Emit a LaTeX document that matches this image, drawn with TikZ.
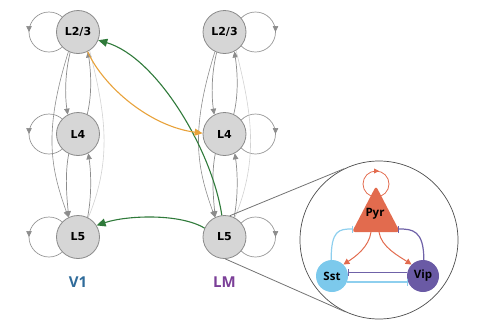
\documentclass[tikz,border=0pt]{standalone}
\usepackage{fontspec}
\setmainfont{DejaVu Sans}
\newfontfamily\lblfont{Open Sans}
\usetikzlibrary{arrows.meta,backgrounds}
\definecolor{nodegray}{HTML}{D6D6D6}
\definecolor{nodeedge}{HTML}{8A8A8A}
\definecolor{edark}{HTML}{8C8C8C}
\definecolor{emid}{HTML}{B2B2B2}
\definecolor{elight}{HTML}{D2D2D2}
\definecolor{grn}{HTML}{2F7A3A}
\definecolor{org}{HTML}{E8A23A}
\definecolor{pyrcol}{HTML}{E26B4E}
\definecolor{sstcol}{HTML}{7CC9EC}
\definecolor{vipcol}{HTML}{6A5AA5}
\definecolor{sstline}{HTML}{8ECFEE}
\definecolor{vipline}{HTML}{6F62A8}
\definecolor{vonecol}{HTML}{2F6B9A}
\definecolor{lmcol}{HTML}{7B3F98}
\begin{document}
\begin{tikzpicture}[x=1pt,y=-1pt,
  layer/.style={circle,fill=nodegray,draw=nodeedge,line width=0.8pt,minimum size=43pt,inner sep=0pt,font=\bfseries\fontsize{11}{12}\selectfont},
  tipg/.style={-{Triangle[length=6pt,width=5.5pt]}},
  ed/.style={draw=edark,line width=0.7pt,tipg,edark},
  em/.style={draw=emid,line width=0.6pt,tipg,edark},
  el/.style={draw=elight,line width=0.6pt},
  loopc/.style={draw=edark!90,line width=0.7pt},
  area/.style={font=\lblfont\bfseries\fontsize{15}{16}\selectfont},
  cell/.style={circle,minimum size=32pt,inner sep=0pt,font=\lblfont\bfseries\fontsize{11.5}{12}\selectfont},
  bar/.style={-{Bar[width=7pt,line width=1.2pt]}},
]
\useasboundingbox (0,0) rectangle (480,330);
% V1 column
\node[layer] (a1) at (78,32) {L2/3};
\node[layer] (a2) at (78,134) {L4};
\node[layer] (a3) at (78,237) {L5};
% LM column
\node[layer] (b1) at (224.5,32) {L2/3};
\node[layer] (b2) at (224.5,134) {L4};
\node[layer] (b3) at (224.5,237) {L5};
\node[area,text=vonecol] (v1) at (78,282) {V1};
\node[area,text=lmcol] (lm) at (224.5,282) {LM};

\begin{scope}[on background layer]
% self loops
\foreach \n in {a1,a2,a3}{
  \draw[loopc] ([xshift=-29pt]\n.center) circle (20pt);
  \draw[loopc,tipg,edark] ([xshift=-49pt,yshift=3pt]\n.center) -- ++(0,3);
}
\foreach \n in {b1,b2,b3}{
  \draw[loopc] ([xshift=31pt]\n.center) circle (20pt);
  \draw[loopc,tipg,edark] ([xshift=51pt,yshift=3pt]\n.center) -- ++(0,3);
}
% intra-column edges
\foreach \t/\m/\b in {a1/a2/a3,b1/b2/b3}{
  \draw[ed] (\t.-111) .. controls +(-5,20) and +(-3,-20) .. (\m.118);
  \draw[ed] (\m.65) .. controls +(5,-20) and +(3,20) .. (\t.-63);
  \draw[em] (\t.-116) .. controls +(-25,80) and +(-18,-50) .. (\b.116);
  \draw[el] (\b.62) .. controls +(25,-60) and +(15,60) .. (\t.-58);
  \draw[ed] (\m.-115) .. controls +(-4,20) and +(-2,-20) .. (\b.115);
  \draw[ed] (\b.64) .. controls +(4,-20) and +(3,20) .. (\m.-62);
}
\end{scope}

% inter-area arrows
\draw[grn,line width=1.1pt,-{Triangle[length=9pt,width=8pt]}] (b3.97) .. controls +(-10,-66) and +(58,17) .. (a1.-22);
\draw[grn,line width=1.1pt,-{Triangle[length=9pt,width=8pt]}] (b3.156) .. controls +(-25,-15) and +(30,-10) .. (a3.32);
\draw[org,line width=1.1pt,-{Triangle[length=8pt,width=7pt]}] (a1.-64) .. controls +(16,35) and +(-53,-7) .. (b2.178);

% zoom inset
\node[circle,draw=black!70,line width=0.7pt,minimum size=158pt,inner sep=0pt] (zoom) at (379,240) {};
\draw[black!55,line width=0.8pt] (b3.76) -- (zoom.116);
\draw[black!55,line width=0.8pt] (b3.-88) -- (zoom.-115);

% microcircuit
\coordinate (pyrbl) at (353,229);
\coordinate (pyrbr) at (398,229);
\coordinate (pyrb1) at (371,232);
\coordinate (pyrb2) at (379,232);
\draw[pyrcol,line width=0.8pt] (376,184) circle (13pt);
\draw[pyrcol,line width=0.8pt,-{Triangle[length=5pt,width=5pt]}] (375,171) -- (379,171);
\fill[pyrcol,rounded corners=3pt] (376,186) -- (352,232) -- (400,232) -- cycle;
\node[cell] (pyr) at (375,214) {Pyr};
\node[cell,fill=sstcol] (sst) at (332,276) {Sst};
\node[cell,fill=vipcol] (vip) at (423,276) {Vip};

\draw[pyrcol,line width=1pt,-{Triangle[length=6pt,width=6pt]}] (pyrb1) .. controls +(-2,15) and +(12,-8) .. (sst.45);
\draw[pyrcol,line width=1pt,-{Triangle[length=6pt,width=6pt]}] (pyrb2) .. controls +(2,15) and +(-12,-8) .. (vip.135);
\draw[sstline,line width=1.2pt,bar] (sst.93) .. controls +(0,-30) and +(-14,0) .. (pyrbl);
\draw[vipline,line width=1.2pt,bar] (vip.87) .. controls +(0,-30) and +(14,0) .. (pyrbr);
\draw[vipline,line width=1.6pt,bar] (vip.168) -- (sst.12);
\draw[sstline,line width=1.6pt,bar] (sst.-22) -- (vip.-158);
\end{tikzpicture}
\end{document}
